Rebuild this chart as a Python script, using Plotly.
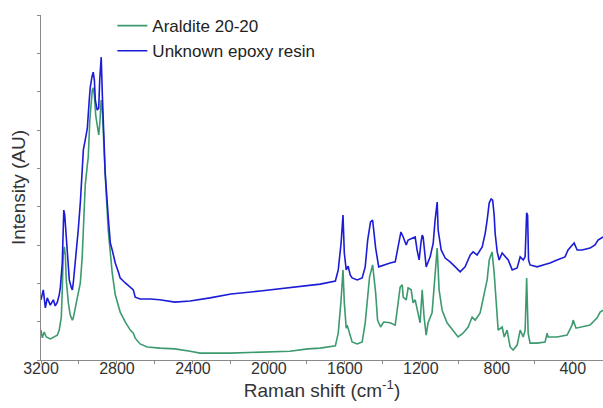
import plotly.graph_objects as go

# Raman shift (cm-1) and intensity (AU)
unknown_shift = [3200, 3188, 3177, 3167, 3151, 3135, 3125, 3114, 3104, 3098, 3088, 3083, 3080, 3075,
                 3067, 3062, 3051, 3041, 3035, 3030, 3020, 3004, 2993, 2977, 2967, 2956, 2946, 2941,
                 2932, 2925, 2919, 2914, 2904, 2896, 2891, 2885, 2883, 2877, 2872, 2862, 2846, 2835,
                 2825, 2809, 2793, 2783, 2756, 2730, 2714, 2704, 2678, 2625, 2575, 2495, 2415, 2310,
                 2200, 2045, 1890, 1795, 1730, 1650, 1635, 1620, 1610, 1603, 1593, 1583, 1572, 1562,
                 1535, 1509, 1493, 1480, 1465, 1454, 1449, 1438, 1422, 1396, 1362, 1335, 1320, 1305,
                 1293, 1277, 1267, 1246, 1230, 1220, 1209, 1199, 1193, 1188, 1180, 1172, 1151, 1135,
                 1125, 1114, 1109, 1093, 1072, 1046, 1019, 993, 967, 940, 925, 904, 877, 861, 851,
                 840, 830, 822, 814, 809, 798, 788, 772, 756, 740, 719, 693, 677, 661, 651, 643, 638,
                 633, 625, 588, 556, 520, 483, 441, 425, 404, 393, 377, 351, 309, 283, 267, 241]
unknown_int = [1.57, 1.83, 1.36, 1.62, 1.43, 1.57, 1.41, 1.51, 1.70, 1.90, 2.53, 3.52, 3.91, 3.78,
               3.26, 2.82, 2.09, 1.90, 1.83, 2.01, 2.48, 3.39, 4.10, 5.48, 5.74, 6.05, 6.78, 7.10,
               7.38, 7.51, 7.30, 6.78, 6.52, 6.57, 7.30, 7.83, 7.90, 6.91, 6.00, 4.88, 3.73, 3.05,
               2.87, 2.53, 2.30, 2.14, 2.01, 1.90, 1.83, 1.64, 1.59, 1.59, 1.57, 1.51, 1.54, 1.62,
               1.72, 1.80, 1.88, 1.93, 1.98, 2.06, 2.35, 3.05, 3.78, 2.79, 2.35, 2.45, 2.22, 2.14,
               2.09, 2.14, 2.43, 3.13, 3.60, 3.65, 3.39, 2.92, 2.43, 2.48, 2.53, 2.56, 2.92, 3.34,
               3.21, 3.00, 3.13, 3.18, 3.21, 2.87, 2.61, 3.08, 3.26, 3.21, 2.74, 2.43, 2.69, 3.05,
               3.65, 4.12, 3.39, 2.87, 2.66, 2.56, 2.43, 2.30, 2.43, 2.74, 2.82, 2.74, 2.95, 3.31, 3.65,
               4.10, 4.20, 4.17, 3.78, 3.31, 2.82, 2.61, 2.79, 2.69, 2.61, 2.35, 2.40, 2.69, 2.61, 2.69, 3.84, 3.78,
               2.61, 2.48, 2.43, 2.48, 2.53, 2.61, 2.69, 2.87, 3.00, 3.05, 2.87, 2.87, 2.92, 3.00, 3.13, 3.21]

araldite_shift = [3200, 3193, 3183, 3172, 3151, 3135, 3114, 3104, 3093, 3088, 3083, 3077, 3072, 3067,
                  3056, 3046, 3035, 3030, 3020, 3009, 2993, 2983, 2972, 2967, 2956, 2951, 2943, 2935,
                  2930, 2925, 2919, 2912, 2904, 2896, 2891, 2883, 2877, 2872, 2862, 2846, 2835, 2825,
                  2809, 2783, 2756, 2730, 2714, 2704, 2678, 2641, 2573, 2495, 2415, 2362, 2204, 1998,
                  1890, 1795, 1730, 1650, 1635, 1620, 1614, 1610, 1603, 1593, 1588, 1577, 1562, 1535,
                  1509, 1493, 1480, 1470, 1454, 1449, 1438, 1428, 1412, 1396, 1362, 1335, 1325, 1309,
                  1298, 1293, 1277, 1267, 1251, 1241, 1230, 1220, 1204, 1193, 1183, 1172, 1162, 1141,
                  1130, 1120, 1114, 1104, 1088, 1062, 1030, 1004, 978, 951, 930, 914, 888, 872, 851,
                  840, 825, 814, 803, 793, 772, 761, 746, 730, 714, 693, 677, 661, 651, 643, 635, 625,
                  588, 546, 535, 530, 483, 430, 404, 398, 383, 351, 309, 272, 256, 241]
araldite_int = [0.78, 0.58, 0.73, 0.60, 0.55, 0.60, 0.65, 0.78, 1.12, 1.83, 2.74, 2.95, 2.74, 2.09,
                1.49, 1.17, 1.04, 1.10, 1.36, 1.64, 2.01, 2.69, 3.78, 4.57, 5.09, 5.30, 6.26, 6.84,
                7.04, 7.10, 6.91, 6.39, 6.05, 5.87, 6.13, 6.78, 6.52, 5.87, 4.83, 3.39, 2.74, 2.27,
                1.70, 1.25, 0.99, 0.78, 0.70, 0.57, 0.42, 0.34, 0.31, 0.29, 0.23, 0.18, 0.18, 0.21,
                0.23, 0.29, 0.31, 0.37, 0.70, 1.57, 2.27, 2.35, 1.49, 0.83, 0.91, 0.70, 0.47, 0.42,
                0.47, 0.97, 1.57, 2.17, 2.48, 2.27, 1.75, 1.04, 0.86, 0.99, 0.97, 0.91, 1.30, 1.90,
                1.96, 1.64, 1.57, 1.88, 1.83, 1.49, 1.57, 1.30, 0.97, 1.83, 1.12, 0.65, 0.97, 1.23,
                1.90, 2.69, 2.92, 1.83, 1.30, 0.97, 0.78, 0.60, 0.70, 0.86, 1.12, 1.04, 1.23, 1.57, 2.09,
                2.61, 2.82, 2.27, 1.38, 0.78, 0.86, 0.60, 0.78, 0.34, 0.26, 0.39, 0.78, 0.60, 0.78, 2.14, 0.70, 0.44,
                0.44, 0.47, 0.70, 0.60, 0.60, 0.65, 0.91, 1.04, 0.83, 0.86, 0.91, 1.10, 1.25, 1.30]

tick_vals = [3200, 3000, 2800, 2600, 2400, 2200, 2000, 1800, 1600, 1400, 1200, 1000, 800, 600, 400]
tick_text = ['3200', '', '2800', '', '2400', '', '2000', '', '1600', '', '1200', '', '800', '', '400']

fig = go.Figure()
fig.add_trace(go.Scatter(x=araldite_shift, y=araldite_int, mode='lines', name='Araldite 20-20',
                         line=dict(color='#3d9a6f', width=1.6)))
fig.add_trace(go.Scatter(x=unknown_shift, y=unknown_int, mode='lines', name='Unknown epoxy resin',
                         line=dict(color='#1c1cd6', width=1.6)))

axis_grey = '#8a8a8a'
fig.update_layout(
    width=603, height=408,
    margin=dict(l=41, r=0, t=15, b=48),
    plot_bgcolor='white', paper_bgcolor='white',
    font=dict(family='Liberation Sans, Arial, sans-serif', size=16, color='#333333'),
    showlegend=True,
    legend=dict(x=0.127, y=1.02, xanchor='left', yanchor='top', bgcolor='rgba(0,0,0,0)',
                font=dict(size=17, color='#222222'), tracegroupgap=0, itemwidth=30),
)
fig.update_xaxes(range=[3200, 241], tickvals=tick_vals, ticktext=tick_text,
                 showgrid=False, zeroline=False, showline=True, linecolor=axis_grey, linewidth=1,
                 ticks='outside', ticklen=3, tickcolor=axis_grey, ticklabelstandoff=-9,
                 title=dict(text='Raman shift (cm<sup>-1</sup>)', standoff=1))
fig.update_yaxes(range=[0, 9], dtick=1, showticklabels=False,
                 showgrid=False, zeroline=False, showline=True, linecolor=axis_grey, linewidth=1,
                 ticks='outside', ticklen=3, tickcolor=axis_grey,
                 title=dict(text='Intensity (AU)', standoff=6))

# drop the page's default body margin so the figure sits at the window's corner
fig.write_html("out.html", config={'displayModeBar': False},
               post_script=["document.body.style.margin='0';"])
